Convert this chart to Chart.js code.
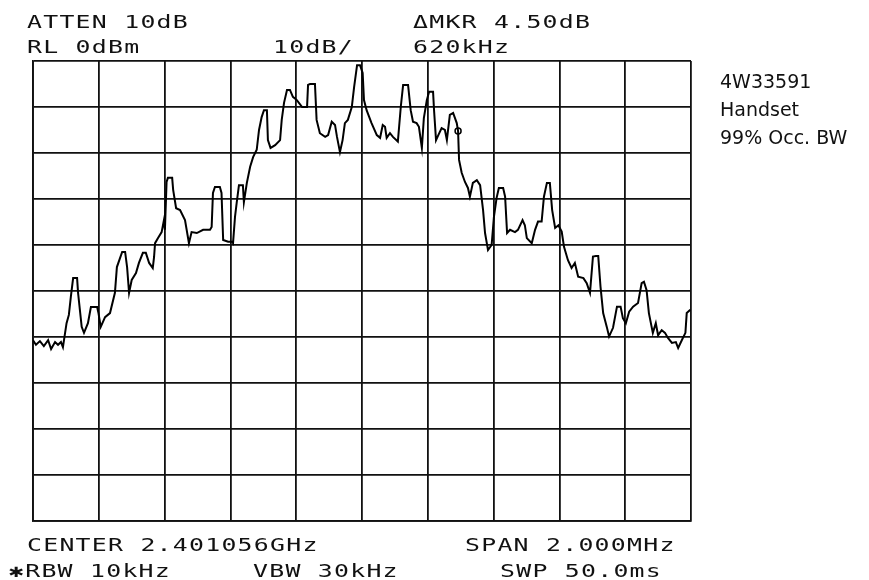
<!DOCTYPE html>
<html>
<head>
<meta charset="utf-8">
<script src="https://cdn.jsdelivr.net/npm/chart.js@4"></script>
<style>
  html, body { margin: 0; padding: 0; background: #fff; }
  canvas { display: block; }
</style>
</head>
<body>
<canvas id="spectrum" width="869" height="580"></canvas>
<script>
// Trace: offset from center (kHz) and level (dBm)
const freqKHz = [
  -1000,-991,-979,-967,-954,-945,-933,-924,-915,-909,
  -898,-891,-885,-878,-866,-863,-852,-845,-833,-824,
  -818,-805,-801,-794,-781,-766,-751,-745,-729,-720,
  -714,-708,-700,-687,-678,-666,-657,-647,-636,-632,
  -629,-620,-609,-602,-599,-594,-590,-577,-574,-565,
  -553,-538,-526,-518,-502,-483,-462,-457,-453,-447,
  -432,-427,-422,-407,-395,-392,-386,-381,-374,-362,
  -359,-350,-340,-331,-320,-313,-305,-298,-289,-286,
  -278,-264,-249,-244,-237,-228,-219,-210,-198,-182,
  -167,-164,-158,-143,-138,-128,-112,-103,-92,-82,
  -76,-67,-59,-52,-43,-31,-24,-15,-6,2,
  6,14,29,45,55,63,70,75,85,94,
  109,118,125,140,148,155,166,173,182,188,
  197,204,216,219,225,232,242,252,258,267,
  277,288,292,295,303,313,322,328,337,349,
  359,368,374,383,394,401,409,416,429,435,
  441,450,465,474,488,495,501,516,526,535,
  546,553,562,571,578,587,597,607,614,626,
  637,647,657,673,683,693,702,711,718,725,
  733,744,751,763,775,786,793,802,812,824,
  839,850,857,865,872,884,893,900,911,921,
  930,942,954,961,972,983,987,998
];
const levelDbm = [
  -60.7,-61.7,-60.9,-62.0,-60.7,-62.6,-61.1,-61.7,-61.1,-62.2,
  -57.0,-55.2,-51.3,-47.2,-47.2,-50.4,-57.8,-59.1,-57.0,-53.5,
  -53.5,-53.5,-54.8,-57.8,-55.7,-54.8,-50.4,-44.8,-41.5,-41.5,
  -44.8,-50.4,-47.6,-46.1,-43.9,-41.7,-41.7,-43.9,-45.0,-42.6,
  -39.6,-38.5,-37.2,-34.6,-36.7,-26.3,-25.4,-25.4,-28.0,-32.0,
  -32.4,-34.6,-39.6,-37.2,-37.4,-36.7,-36.7,-36.1,-28.7,-27.4,
  -27.4,-28.7,-38.9,-39.3,-39.3,-39.6,-33.9,-30.9,-27.0,-27.0,
  -30.7,-26.5,-23.0,-20.9,-19.3,-15.0,-12.2,-10.7,-10.7,-17.2,
  -18.9,-18.3,-17.2,-12.8,-9.1,-6.3,-6.3,-7.8,-8.5,-10.0,
  -10.0,-5.2,-5.0,-5.0,-12.8,-15.7,-16.5,-16.1,-13.2,-13.9,
  -16.5,-19.8,-17.2,-13.5,-12.8,-10.0,-5.7,-0.9,-0.9,-2.6,
  -8.5,-10.7,-13.5,-16.1,-16.7,-13.9,-14.3,-16.7,-15.7,-16.5,
  -17.5,-9.9,-5.2,-5.2,-10.7,-13.2,-13.5,-14.3,-18.9,-12.4,
  -8.5,-6.7,-6.7,-10.7,-17.2,-16.1,-14.6,-15.0,-17.2,-11.7,
  -11.3,-13.5,-15.2,-21.5,-24.3,-26.3,-27.6,-29.5,-26.5,-25.9,
  -27.0,-32.4,-37.4,-41.1,-40.0,-33.9,-29.8,-27.6,-27.6,-29.5,
  -37.4,-36.7,-37.2,-36.7,-34.6,-35.7,-38.5,-39.6,-36.7,-34.9,
  -34.9,-29.5,-26.5,-26.5,-32.4,-36.3,-35.7,-37.1,-40.4,-43.3,
  -45.0,-43.9,-46.9,-47.2,-48.3,-50.4,-42.5,-42.4,-42.4,-49.1,
  -54.8,-57.8,-59.9,-58.0,-53.4,-53.4,-55.9,-57.0,-54.5,-53.4,
  -52.6,-48.3,-48.0,-49.8,-54.8,-59.1,-57.0,-59.6,-58.5,-59.1,
  -60.2,-61.3,-61.1,-62.4,-60.7,-59.1,-54.8,-54.1
];

// delta marker position
const markerFreq = [292];
const markerLevel = [-15.2];

// screen annotations (analyzer font + side note)
const topLeft = ['ATTEN 10dB', 'RL 0dBm'];
const topMid = '10dB/';
const topRight = ['\u0394MKR 4.50dB', '620kHz'];
const bottomRow1 = ['CENTER 2.401056GHz', 'SPAN 2.000MHz'];
const bottomRow2 = ['\u2731RBW 10kHz', 'VBW 30kHz', 'SWP 50.0ms'];
const sideNote = ['4W33591', 'Handset', '99% Occ. BW'];

// draws text char by char in fixed cells, like the analyzer's screen font
function monoText(ctx, str, x, y) {
  const cell = 16.2;
  for (let i = 0; i < str.length; i++) {
    ctx.save();
    ctx.translate(x + i * cell, y);
    ctx.scale(1.38, 1);
    ctx.fillText(str[i], 0, 0);
    ctx.restore();
  }
}

const screenText = {
  id: 'screenText',
  afterDraw(chart) {
    const ctx = chart.ctx;
    ctx.save();
    ctx.fillStyle = '#111';
    ctx.textBaseline = 'alphabetic';
    ctx.textAlign = 'left';
    ctx.font = '18px "DejaVu Sans Mono"';

    monoText(ctx, topLeft[0], 27, 28);
    monoText(ctx, topLeft[1], 27, 53);
    monoText(ctx, topMid, 273, 53);
    monoText(ctx, topRight[0], 413, 28);
    monoText(ctx, topRight[1], 413, 53);
    monoText(ctx, bottomRow1[0], 27, 551);
    monoText(ctx, bottomRow1[1], 465, 551);
    monoText(ctx, bottomRow2[0], 9, 577);
    monoText(ctx, bottomRow2[1], 253, 577);
    monoText(ctx, bottomRow2[2], 500, 577);

    ctx.font = '19px "DejaVu Sans"';
    sideNote.forEach((t, i) => ctx.fillText(t, 720, 88 + i * 28));
    ctx.restore();
  }
};

const traceData = freqKHz.map((f, i) => ({ x: f, y: levelDbm[i] }));
const markerData = markerFreq.map((f, i) => ({ x: f, y: markerLevel[i] }));

const gridStyle = { color: '#111', lineWidth: 1.8, drawTicks: false };
const borderStyle = { color: '#111', width: 1.8 };

new Chart(document.getElementById('spectrum'), {
  type: 'line',
  data: {
    datasets: [
      {
        data: traceData,
        borderColor: '#000',
        borderWidth: 2,
        pointRadius: 0,
        tension: 0
      },
      {
        data: markerData,
        showLine: false,
        pointRadius: 3,
        pointBackgroundColor: '#fff',
        pointBorderColor: '#000',
        pointBorderWidth: 1.5
      }
    ]
  },
  options: {
    responsive: false,
    animation: false,
    devicePixelRatio: 1,
    layout: { padding: { left: 33, right: 178, top: 61, bottom: 59 } },
    scales: {
      x: {
        type: 'linear',
        min: -1000,
        max: 1000,
        ticks: { display: false, stepSize: 200 },
        grid: gridStyle,
        border: borderStyle
      },
      y: {
        min: -100,
        max: 0,
        ticks: { display: false, stepSize: 10 },
        grid: gridStyle,
        border: borderStyle
      }
    },
    plugins: {
      legend: { display: false },
      tooltip: { enabled: false }
    }
  },
  plugins: [screenText]
});
</script>
</body>
</html>
